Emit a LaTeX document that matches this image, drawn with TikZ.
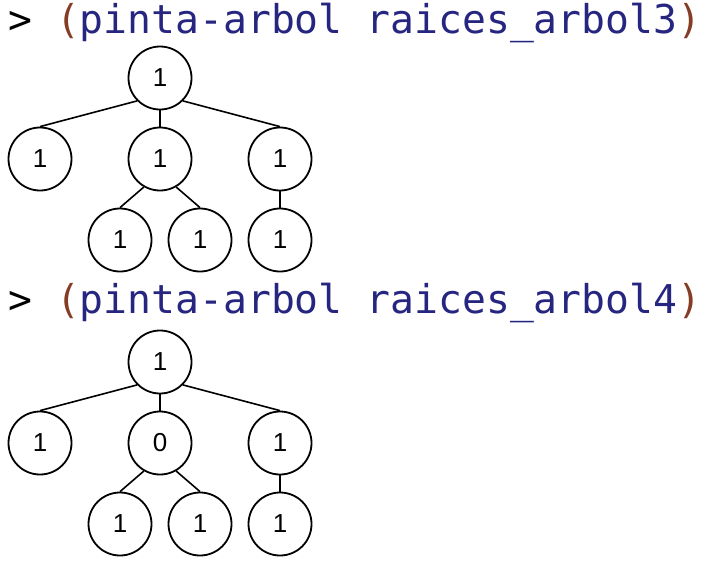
\documentclass[tikz,border=0pt]{standalone}
\usepackage{fontspec}
\setmainfont{Liberation Sans}
\newfontfamily\monofont{DejaVu Sans Mono}
\definecolor{racketblue}{RGB}{38,38,128}
\definecolor{racketbrown}{RGB}{132,60,36}
\begin{document}
\begin{tikzpicture}[x=1pt,y=-1pt,
  treenode/.style={circle,draw=black,line width=1.8pt,minimum size=63pt,inner sep=0pt,font=\fontsize{26}{26}\selectfont},
  treeedge/.style={draw=black,line width=1.6pt},
  prompt/.style={anchor=base west,inner sep=0pt,font=\monofont\fontsize{39.7}{40}\selectfont}]
\useasboundingbox (0,0) rectangle (714,560);

% ---------- first call ----------
\node[prompt] (h1) at (8,33) {> \textcolor{racketbrown}{(}\textcolor{racketblue}{pinta-arbol raices\_arbol3}\textcolor{racketbrown}{)}};

\node[treenode] (a) at (160,78) {1};
\node[treenode] (a1) at (40,159) {1};
\node[treenode] (a2) at (160,159) {1};
\node[treenode] (a3) at (280,159) {1};
\node[treenode] (a21) at (120,240) {1};
\node[treenode] (a22) at (200,240) {1};
\node[treenode] (a31) at (280,240) {1};

\draw[treeedge] (a.225) -- (a1.north);
\draw[treeedge] (a.south) -- (a2.north);
\draw[treeedge] (a.-45) -- (a3.north);
\draw[treeedge] (a2.240) -- (a21.north);
\draw[treeedge] (a2.-60) -- (a22.north);
\draw[treeedge] (a3.south) -- (a31.north);

% ---------- second call ----------
\node[prompt] (h2) at (8,313) {> \textcolor{racketbrown}{(}\textcolor{racketblue}{pinta-arbol raices\_arbol4}\textcolor{racketbrown}{)}};

\node[treenode] (b) at (160,362) {1};
\node[treenode] (b1) at (40,443) {1};
\node[treenode] (b2) at (160,443) {0};
\node[treenode] (b3) at (280,443) {1};
\node[treenode] (b21) at (120,524) {1};
\node[treenode] (b22) at (200,524) {1};
\node[treenode] (b31) at (280,524) {1};

\draw[treeedge] (b.225) -- (b1.north);
\draw[treeedge] (b.south) -- (b2.north);
\draw[treeedge] (b.-45) -- (b3.north);
\draw[treeedge] (b2.240) -- (b21.north);
\draw[treeedge] (b2.-60) -- (b22.north);
\draw[treeedge] (b3.south) -- (b31.north);
\end{tikzpicture}
\end{document}
